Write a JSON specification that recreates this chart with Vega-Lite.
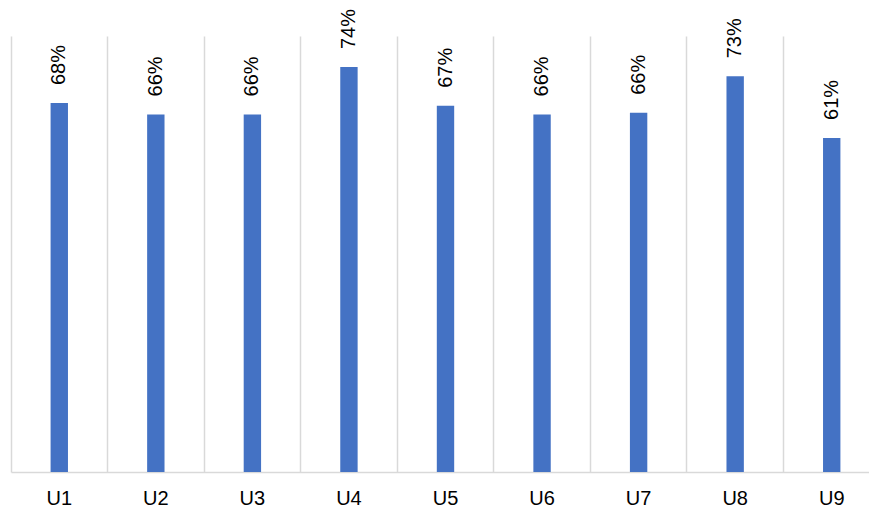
{
  "$schema": "https://vega.github.io/schema/vega-lite/v6.json",
  "width": 858,
  "height": 436,
  "autosize": {"type": "none"},
  "padding": {"left": 11, "top": 36, "right": 0, "bottom": 38},
  "background": "white",
  "config": {"view": {"stroke": null}, "font": "Liberation Sans"},
  "data": {
    "values": [
      {"unit": "U1", "share": 0.677},
      {"unit": "U2", "share": 0.656},
      {"unit": "U3", "share": 0.656},
      {"unit": "U4", "share": 0.743},
      {"unit": "U5", "share": 0.672},
      {"unit": "U6", "share": 0.656},
      {"unit": "U7", "share": 0.659},
      {"unit": "U8", "share": 0.726},
      {"unit": "U9", "share": 0.613}
    ]
  },
  "encoding": {
    "x": {
      "field": "unit",
      "type": "nominal",
      "sort": null,
      "scale": {"range": [0, 869], "paddingInner": 0, "paddingOuter": 0},
      "axis": {
        "title": null,
        "labelAngle": 0,
        "labelFontSize": 20,
        "labelColor": "#000000",
        "labelPadding": 16,
        "ticks": false,
        "domainColor": "#d9d9d9",
        "domainWidth": 1.5,
        "grid": true,
        "gridColor": "#d9d9d9",
        "gridWidth": 1.5,
        "bandPosition": 0,
        "labelBound": false
      }
    },
    "y": {
      "field": "share",
      "type": "quantitative",
      "scale": {"domain": [0, 0.8], "nice": false},
      "axis": null
    }
  },
  "layer": [
    {
      "mark": {"type": "bar", "color": "#4472C4", "width": {"band": 0.18}}
    },
    {
      "mark": {"type": "text", "angle": -90, "align": "left", "baseline": "middle", "dx": 18, "fontSize": 20, "color": "#000000"},
      "encoding": {"text": {"field": "share", "type": "quantitative", "format": ".0%"}}
    }
  ]
}
